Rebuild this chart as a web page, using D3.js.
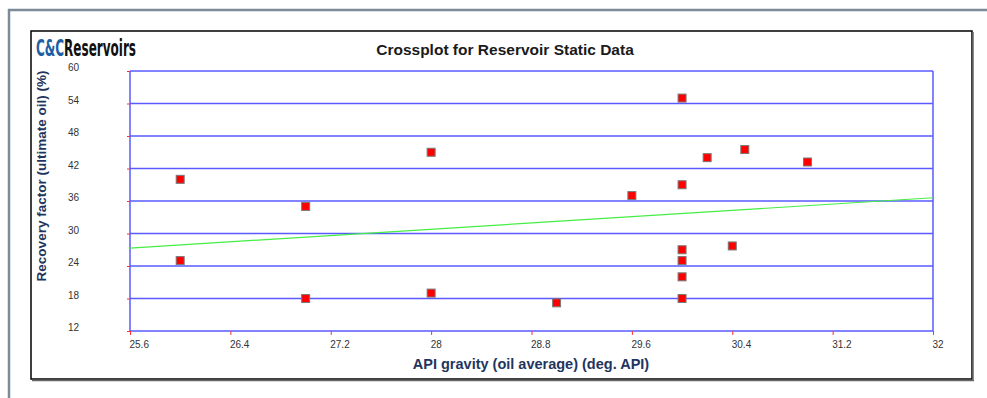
<!DOCTYPE html>
<html>
<head>
<meta charset="utf-8">
<script src="https://d3js.org/d3.v7.min.js"></script>
<style>
  body { margin: 0; background: #fff; }
  svg { display: block; font-family: "Liberation Sans", Arial, sans-serif; }
</style>
</head>
<body>
<div id="chart"></div>
<script>
// API gravity (deg. API) vs recovery factor (%)
const apiGravity = [26.0, 26.0, 27.0, 27.0, 28.0, 28.0, 29.0, 29.6, 30.0, 30.0, 30.0, 30.0, 30.0, 30.0, 30.2, 30.5, 30.4, 31.0];
const recovery   = [40.0, 25.0, 35.0, 18.0, 45.0, 19.0, 17.2, 37.0, 55.0, 39.0, 27.0, 25.0, 22.0, 18.0, 44.0, 45.5, 27.7, 43.2];

// trend line end points as drawn
const trendX = [25.6, 32];
const trendY = [27.3, 36.6];

const xTicks = [25.6, 26.4, 27.2, 28, 28.8, 29.6, 30.4, 31.2, 32];
const yTicks = [12, 18, 24, 30, 36, 42, 48, 54, 60];

const width = 987, height = 398;
const plot = { left: 130, right: 933, top: 71, bottom: 331 };

const svg = d3.select("#chart").append("svg")
  .attr("width", width)
  .attr("height", height);

// outer frame (gray)
svg.append("line").attr("x1", 8).attr("x2", width).attr("y1", 10).attr("y2", 10)
  .attr("stroke", "#7d8b99").attr("stroke-width", 2.5);
svg.append("line").attr("x1", 9).attr("x2", 9).attr("y1", 9).attr("y2", height)
  .attr("stroke", "#7d8b99").attr("stroke-width", 2.5);

// black chart box with shadow on right/bottom
svg.append("rect").attr("x", 31).attr("y", 31).attr("width", 941).attr("height", 348)
  .attr("fill", "#fff").attr("stroke", "#000").attr("stroke-width", 1.5);
svg.append("line").attr("x1", 973).attr("x2", 973).attr("y1", 32).attr("y2", 380)
  .attr("stroke", "#666").attr("stroke-width", 1.5);
svg.append("line").attr("x1", 32).attr("x2", 974).attr("y1", 380.5).attr("y2", 380.5)
  .attr("stroke", "#666").attr("stroke-width", 1.5);

const x = d3.scaleLinear().domain([25.6, 32]).range([plot.left, plot.right]);
const y = d3.scaleLinear().domain([12, 60]).range([plot.bottom, plot.top]);

// horizontal gridlines
svg.append("g")
  .selectAll("line")
  .data(yTicks)
  .join("line")
  .attr("x1", plot.left).attr("x2", plot.right)
  .attr("y1", d => y(d)).attr("y2", d => y(d))
  .attr("stroke", "#5a5aff").attr("stroke-width", 1.5);

// left / right borders
svg.append("g")
  .selectAll("line")
  .data([25.6, 32])
  .join("line")
  .attr("x1", d => x(d)).attr("x2", d => x(d))
  .attr("y1", plot.top).attr("y2", plot.bottom)
  .attr("stroke", "#5a5aff").attr("stroke-width", 1.5);

// y axis: red ticks + labels
const yAxis = svg.append("g")
  .attr("transform", `translate(${plot.left},0)`)
  .call(d3.axisLeft(y).tickValues(yTicks).tickSize(3).tickPadding(48).tickFormat(d3.format("d")));
yAxis.select(".domain").remove();
yAxis.selectAll(".tick line").attr("stroke", "#ff3030");
yAxis.selectAll(".tick text")
  .attr("font-family", "Liberation Sans, Arial, sans-serif")
  .attr("font-size", 10).attr("fill", "#333")
  .attr("dy", "-0.05em");

// x axis: red ticks + labels starting at tick
const xAxis = svg.append("g")
  .attr("transform", `translate(0,${plot.bottom})`)
  .call(d3.axisBottom(x).tickValues(xTicks).tickSize(4).tickPadding(6).tickFormat(d => String(d)));
xAxis.select(".domain").remove();
xAxis.selectAll(".tick line").attr("stroke", "#ff3030");
xAxis.selectAll(".tick text")
  .attr("font-family", "Liberation Sans, Arial, sans-serif")
  .attr("font-size", 10).attr("fill", "#333")
  .attr("text-anchor", "start").attr("x", -1);

// trend line
svg.append("line")
  .attr("x1", x(trendX[0])).attr("y1", y(trendY[0]))
  .attr("x2", x(trendX[1])).attr("y2", y(trendY[1]))
  .attr("stroke", "#44ee44").attr("stroke-width", 1.2);

// points
const pts = apiGravity.map((d, i) => ({ x: d, y: recovery[i] }));
svg.append("g")
  .selectAll("rect")
  .data(pts)
  .join("rect")
  .attr("x", d => x(d.x) - 4)
  .attr("y", d => y(d.y) - 4)
  .attr("width", 8).attr("height", 8)
  .attr("fill", "#ff0000")
  .attr("stroke", "#7a7a7a").attr("stroke-width", 1);

// logo: condensed by squeezing the group horizontally
const logo = svg.append("g");
const logoFont = "Liberation Sans Narrow, DejaVu Sans Condensed, sans-serif";
const cc = logo.append("text")
  .attr("x", 0).attr("y", 0)
  .attr("font-family", logoFont).attr("font-weight", "bold").attr("font-size", 23)
  .attr("fill", "#1d5fa5")
  .text("C&C");
const ccLen = cc.node().getComputedTextLength();
const res = logo.append("text")
  .attr("x", ccLen).attr("y", 0)
  .attr("font-family", logoFont).attr("font-weight", "bold").attr("font-size", 23)
  .attr("fill", "#111")
  .text("Reservoirs");
const resLen = res.node().getComputedTextLength();
const sx = 100 / (ccLen + resLen);
logo.attr("transform", `translate(36,56) scale(${sx},1)`);

// title
svg.append("text")
  .attr("x", 505).attr("y", 55)
  .attr("text-anchor", "middle")
  .attr("font-weight", "bold").attr("font-size", 15.5)
  .attr("fill", "#1a1a1a")
  .text("Crossplot for Reservoir Static Data");

// axis titles
svg.append("text")
  .attr("transform", "translate(46,176) rotate(-90)")
  .attr("text-anchor", "middle")
  .attr("font-weight", "bold").attr("font-size", 13.5)
  .attr("fill", "#1f3560")
  .text("Recovery factor (ultimate oil) (%)");

svg.append("text")
  .attr("x", 531).attr("y", 369)
  .attr("text-anchor", "middle")
  .attr("font-weight", "bold").attr("font-size", 14.5)
  .attr("fill", "#1f3560")
  .text("API gravity (oil average) (deg. API)");
</script>
</body>
</html>
